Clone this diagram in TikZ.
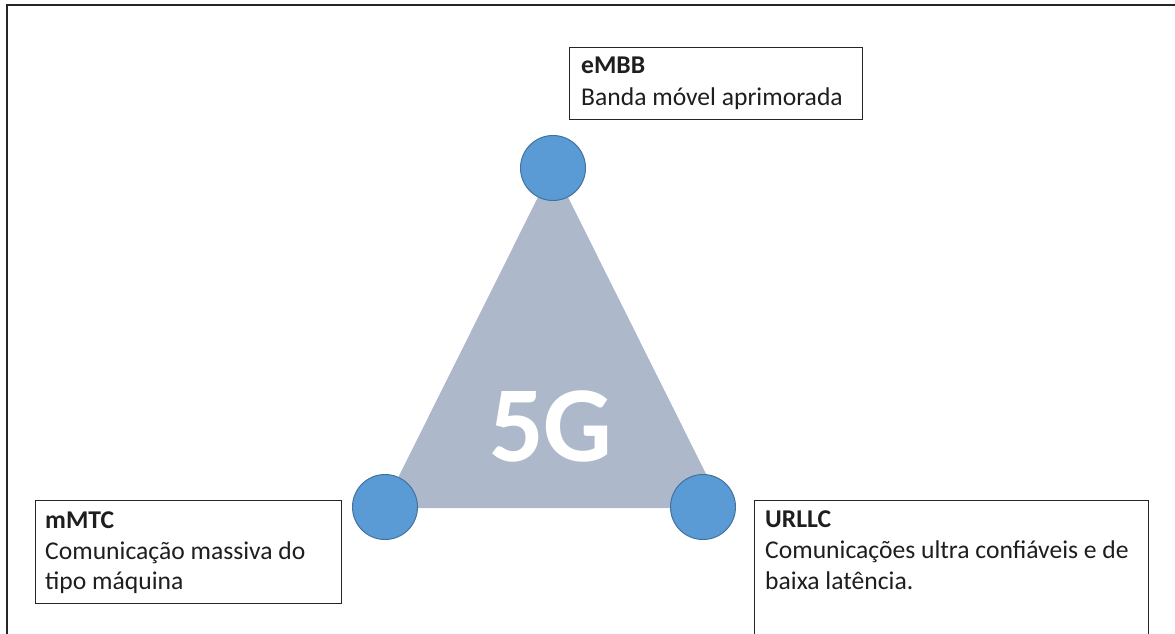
\documentclass[tikz,border=0pt]{standalone}
\usepackage{fontspec}
\setmainfont{Carlito}
\definecolor{trifill}{HTML}{ADB9CA}
\definecolor{dotfill}{HTML}{5B9BD5}
\definecolor{dotline}{HTML}{41719C}
\definecolor{txt}{HTML}{1E1E1E}
\definecolor{boxline}{HTML}{262626}
\begin{document}
\begin{tikzpicture}[x=1pt,y=-1pt,
  frameline/.style={draw=boxline,line width=2pt},
  tri/.style={fill=trifill},
  dot/.style={circle,fill=dotfill,draw=dotline,line width=1pt,minimum size=65pt,inner sep=0pt},
  box/.style={draw=boxline,line width=1.2pt,rectangle,inner sep=0pt,anchor=north west},
  lbl/.style={text=txt,inner sep=0pt,anchor=base west,font=\fontsize{25.6}{31}\selectfont},
  big/.style={text=white,inner sep=0pt,font=\bfseries\fontsize{108}{110}\selectfont}]
\useasboundingbox (0,0) rectangle (1175,634);
\clip (0,0) rectangle (1175,634);
\fill[white] (0,0) rectangle (1175,634);
% frame
\coordinate (fbl) at (7,640);
\coordinate (ftl) at (7,5);
\coordinate (ftr) at (1180,5);
\draw[frameline] (fbl) -- (ftl) -- (ftr);
% triangle
\coordinate (va) at (553,167);
\coordinate (vl) at (383,508);
\coordinate (vr) at (723,508);
\fill[tri] (va) -- (vl) -- (vr) -- cycle;
\node[big] (fiveg) at (551,426) {5G};
% circles
\node[dot] (ctop) at (553,168) {};
\node[dot] (cleft) at (385,507) {};
\node[dot] (cright) at (703,507) {};
% eMBB
\node[box,minimum width=293pt,minimum height=72pt] (embbbox) at (569,47) {};
\node[lbl] (embb1) at (581,74) {\textbf{eMBB}};
\node[lbl] (embb2) at (581,105) {Banda móvel aprimorada};
% mMTC
\node[box,minimum width=306pt,minimum height=103pt] (mmtcbox) at (35,500) {};
\node[lbl] (mmtc1) at (45,528) {\textbf{mMTC}};
\node[lbl] (mmtc2) at (45,559) {Comunicação massiva do};
\node[lbl] (mmtc3) at (45,589) {tipo máquina};
% URLLC
\node[box,minimum width=394pt,minimum height=160pt] (urllcbox) at (754,500) {};
\node[lbl] (urllc1) at (765,527) {\textbf{URLLC}};
\node[lbl] (urllc2) at (765,558) {Comunicações ultra confiáveis e de};
\node[lbl] (urllc3) at (765,589) {baixa latência.};
\end{tikzpicture}
\end{document}
